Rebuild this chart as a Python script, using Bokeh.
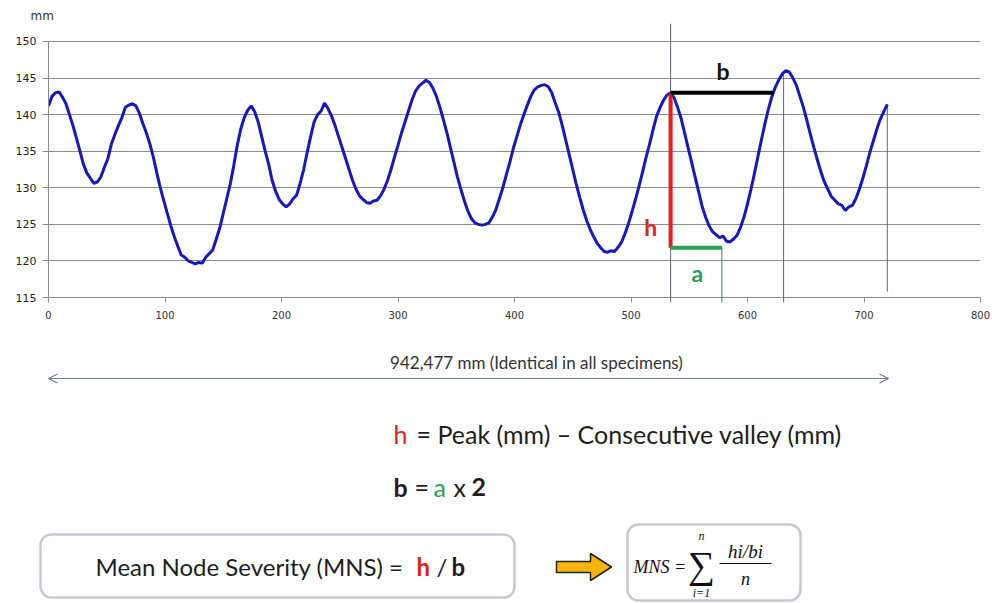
from bokeh.plotting import figure
from bokeh.layouts import column
from bokeh.models import (Range1d, FixedTicker, Label, BoxAnnotation, Arrow,
                          OpenHead, ColumnDataSource)
from bokeh.embed import file_html
from bokeh.resources import INLINE

# ---------------- data ----------------
x_mm = list(range(0, 721, 3))
profile_mm = [
    141.2, 142.5, 143.0, 143.1, 142.4, 141.5, 140.0, 138.5, 136.8, 135.0,
    133.2, 132.0, 131.3, 130.6, 130.8, 131.5, 132.8, 134.0, 136.0, 137.3,
    138.5, 139.6, 141.0, 141.3, 141.5, 141.2, 140.2, 138.8, 137.5, 136.0,
    134.2, 132.0, 130.0, 128.2, 126.5, 124.8, 123.3, 122.0, 120.8, 120.5,
    120.0, 119.8, 119.6, 119.8, 119.7, 120.5, 121.0, 121.5, 123.0, 124.5,
    126.5, 128.5, 130.5, 133.0, 135.8, 138.0, 139.6, 140.6, 141.2, 140.4,
    139.0, 137.0, 135.0, 133.2, 131.0, 129.5, 128.4, 127.8, 127.4, 127.8,
    128.5, 129.0, 130.6, 132.5, 134.8, 137.0, 139.0, 140.0, 140.5, 141.6,
    140.8, 139.8, 138.5, 137.0, 135.5, 134.0, 132.5, 131.0, 129.8, 128.9,
    128.4, 128.0, 127.9, 128.2, 128.3, 128.9, 129.8, 131.0, 132.5, 134.2,
    135.8, 137.5, 139.0, 140.5, 142.0, 143.2, 143.9, 144.3, 144.7, 144.4,
    143.6, 142.5, 141.0, 139.3, 137.5, 135.5, 133.5, 131.5, 129.8, 128.2,
    126.8, 125.8, 125.2, 125.0, 124.9, 125.0, 125.2, 126.0, 127.0, 128.5,
    130.0, 131.8, 133.5, 135.4, 137.0, 138.6, 140.0, 141.3, 142.5, 143.4,
    143.8, 144.0, 144.1, 143.8, 143.0, 141.6, 140.3, 138.5, 136.5, 134.5,
    132.5, 130.5, 128.7, 127.0, 125.5, 124.3, 123.3, 122.4, 121.8, 121.3,
    121.2, 121.4, 121.3, 121.9, 122.6, 123.8, 125.2, 126.8, 128.5, 130.3,
    132.2, 134.2, 136.0, 138.0, 139.8, 141.0, 142.0, 142.7, 143.0, 142.3,
    141.0, 139.5, 137.5, 135.5, 133.5, 131.5, 129.5, 127.5, 126.0, 124.8,
    124.0, 123.6, 123.2, 123.4, 122.7, 122.6, 123.0, 123.5, 124.6, 126.0,
    127.8, 129.8, 132.0, 134.3, 136.6, 138.8, 140.8, 142.5, 143.8, 144.8,
    145.6, 146.0, 145.8, 145.0, 144.0, 142.5, 141.0, 139.2, 137.3, 135.5,
    133.8, 132.2, 130.8, 129.8, 128.8, 128.3, 127.8, 127.6, 126.9, 127.4,
    127.6, 128.5, 129.8, 131.3, 133.0, 134.8, 136.4, 138.0, 139.4, 140.4,
    141.4,
]
x_ticks = [0, 100, 200, 300, 400, 500, 600, 700, 800]
y_ticks = [115, 120, 125, 130, 135, 140, 145, 150]

# annotation values (mm)
peak_x = 534
peak_val = 143.0
valley_val = 121.8
a_end_x = 578
b_end_x = 622.6
next_peak_x = 631
next_peak_val = 146.0
end_x = 720
end_val = 141.4
end_low = 115.8

Y_LO, Y_HI = 114.32, 152.46

# ---------------- chart ----------------
p = figure(width=992, height=335, output_backend="svg", toolbar_location=None,
           x_range=Range1d(0, 800), y_range=Range1d(Y_LO, Y_HI),
           min_border_left=48, min_border_right=12, min_border_top=23,
           min_border_bottom=33, title="mm")
p.title.align = "left"
p.title.offset = -18
p.title.standoff = 2
p.title.text_font = "DejaVu Sans"
p.title.text_font_size = "12px"
p.title.text_font_style = "normal"
p.title.text_color = "#333333"
p.outline_line_color = None
p.background_fill_color = "white"
p.border_fill_color = "white"

p.xgrid.visible = False
p.ygrid.ticker = FixedTicker(ticks=y_ticks)
p.ygrid.grid_line_color = "#8c8c8c"
p.ygrid.grid_line_width = 1

p.yaxis.ticker = FixedTicker(ticks=y_ticks)
p.yaxis.bounds = (115, 150)
p.yaxis.axis_line_color = "#8c8c8c"
p.yaxis.major_tick_line_color = "#8c8c8c"
p.yaxis.major_tick_out = 6
p.yaxis.major_tick_in = 0
p.yaxis.minor_tick_line_color = None
p.yaxis.major_label_text_font = "DejaVu Sans"
p.yaxis.major_label_text_font_size = "11px"
p.yaxis.major_label_text_color = "#222222"
p.yaxis.major_label_standoff = 6

p.xaxis.ticker = FixedTicker(ticks=x_ticks)
p.xaxis.axis_line_color = None
p.xaxis.major_tick_line_color = "#8c8c8c"
p.xaxis.major_tick_in = 5
p.xaxis.major_tick_out = 0
p.xaxis.minor_tick_line_color = None
p.xaxis.major_label_text_font = "DejaVu Sans"
p.xaxis.major_label_text_font_size = "10px"
p.xaxis.major_label_text_color = "#333333"
p.xaxis.major_label_standoff = 8

# thin vertical guides
guide_color = "#4d6b78"
p.segment(x0=[peak_x, a_end_x, next_peak_x, end_x],
          y0=[Y_LO, Y_LO, Y_LO, end_low],
          x1=[peak_x, a_end_x, next_peak_x, end_x],
          y1=[Y_HI, valley_val, next_peak_val, end_val],
          line_color=guide_color, line_width=1)

# profile
src = ColumnDataSource(data=dict(x=x_mm, y=profile_mm))
p.line("x", "y", source=src, line_color="#1818c0", line_width=3)

# h, a, b measurement bars
p.segment(x0=[peak_x], y0=[valley_val], x1=[peak_x], y1=[peak_val],
          line_color="#e0201c", line_width=4)
p.segment(x0=[peak_x], y0=[valley_val], x1=[a_end_x], y1=[valley_val],
          line_color="#23a05a", line_width=4)
p.segment(x0=[peak_x], y0=[peak_val], x1=[b_end_x], y1=[peak_val],
          line_color="#000000", line_width=4)

p.add_layout(Label(x=579, y=145.9, text="b", text_font="Lato",
                   text_font_style="bold", text_font_size="23px",
                   text_color="#111111", text_align="center",
                   text_baseline="middle"))
p.add_layout(Label(x=517, y=124.6, text="h", text_font="Lato",
                   text_font_style="bold", text_font_size="23px",
                   text_color="#d8261e", text_align="center",
                   text_baseline="middle"))
p.add_layout(Label(x=557, y=118.4, text="a", text_font="Lato",
                   text_font_style="bold", text_font_size="23px",
                   text_color="#2aa060", text_align="center",
                   text_baseline="middle"))

# ---------------- lower panel (pixel coordinates of the page) ----------------
q = figure(width=992, height=268, output_backend="svg", toolbar_location=None,
           x_range=Range1d(0, 992), y_range=Range1d(603, 335),
           x_axis_location=None, y_axis_location=None,
           min_border_left=0, min_border_right=0, min_border_top=0,
           min_border_bottom=0, title=None)
for fig in (p, q):
    if "frame_align" in fig.properties():
        fig.frame_align = False
q.grid.visible = False
q.outline_line_color = None
q.background_fill_color = "white"
q.border_fill_color = "white"

FONT = "Lato"
DARK = "#1e1e1e"


def lab(x, y, text, size="25px", color=DARK, style="normal", font=FONT,
        align="left"):
    q.add_layout(Label(x=x, y=y, text=text, text_font=font,
                       text_font_size=size, text_color=color,
                       text_font_style=style, text_align=align,
                       text_baseline="middle"))


lab(536, 362, "942,477 mm (Identical in all specimens)", size="17px",
    color="#333333", align="center")
q.add_layout(Arrow(x_start=48, y_start=378, x_end=888, y_end=378,
                   line_color="#6e7f90", line_width=1.2,
                   start=OpenHead(size=9, line_color="#6e7f90", line_width=1.2),
                   end=OpenHead(size=9, line_color="#6e7f90", line_width=1.2)))

lab(393, 433, "h", color="#d8261e")
lab(416, 433, "= Peak (mm) \u2013 Consecutive valley (mm)")

lab(393, 486, "b", style="bold")
lab(414, 486, "=")
lab(433, 486, "a", color="#2aa060")
lab(453, 486, "x")
lab(471, 486, "2", style="bold")

box_line = "#3e4d63"
q.add_layout(BoxAnnotation(left=40, right=514, bottom=534, top=597,
                           fill_color="white", fill_alpha=1,
                           line_color=box_line, line_width=2.5,
                           border_radius=11, level="underlay"))
lab(95, 566, "Mean Node Severity (MNS) =", size="24px")
lab(416, 566, "h", color="#d8261e", style="bold", size="24px")
lab(436, 566, "/", size="24px")
lab(451, 566, "b", style="bold", size="24px")

# block arrow
q.patch(x=[556, 590, 590, 611, 590, 590, 556],
        y=[561, 561, 553, 566.5, 580, 572, 572],
        fill_color="#f6b40a", line_color="#222222", line_width=1.5)

q.add_layout(BoxAnnotation(left=627, right=800, bottom=524, top=600,
                           fill_color="white", fill_alpha=1,
                           line_color=box_line, line_width=2.5,
                           border_radius=11, level="underlay"))
SERIF = "Liberation Serif"
lab(633, 566, "MNS =", size="18px", font=SERIF, style="italic", color="#111111")
lab(701, 564, "\u2211", size="38px", font=SERIF, color="#111111", align="center")
lab(701, 535, "n", size="12px", font=SERIF, style="italic", color="#111111",
    align="center")
lab(701, 592, "i=1", size="12px", font=SERIF, style="italic", color="#111111",
    align="center")
lab(745, 551, "hi/bi", size="19px", font=SERIF, style="italic",
    color="#111111", align="center")
q.segment(x0=[719], y0=[563], x1=[771], y1=[563], line_color="#111111",
          line_width=1)
lab(745, 578, "n", size="18px", font=SERIF, style="italic", color="#111111",
    align="center")

layout = column(p, q, spacing=0)
open("out.html", "w").write(file_html(layout, INLINE))
